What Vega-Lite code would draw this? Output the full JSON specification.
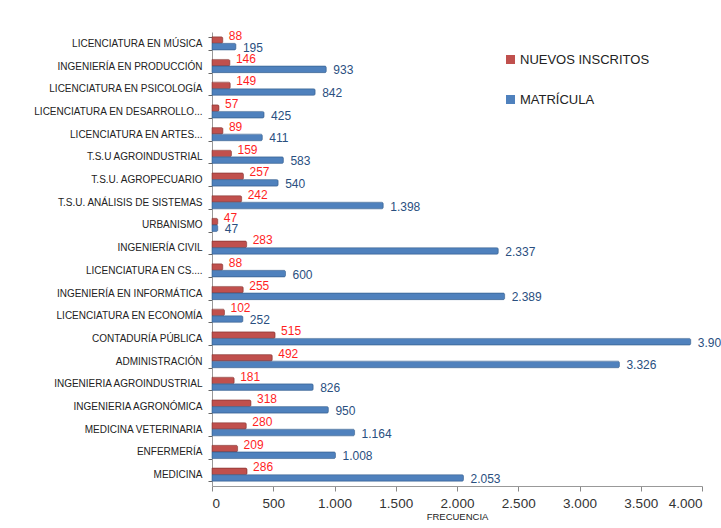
{
  "$schema": "https://vega.github.io/schema/vega-lite/v6.json",
  "autosize": {"type": "none"},
  "width": 490,
  "height": 454,
  "padding": {"left": 212, "top": 32, "right": 19, "bottom": 42},
  "background": "white",
  "config": {
    "locale": {"number": {"decimal": ",", "thousands": ".", "grouping": [3], "currency": ["", ""]}},
    "view": {"stroke": null},
    "font": "Liberation Sans"
  },
  "data": {"values": [
    {"carrera": "LICENCIATURA EN MÚSICA", "serie": "NUEVOS INSCRITOS", "valor": 88},
    {"carrera": "LICENCIATURA EN MÚSICA", "serie": "MATRÍCULA", "valor": 195},
    {"carrera": "INGENIERÍA EN PRODUCCIÓN", "serie": "NUEVOS INSCRITOS", "valor": 146},
    {"carrera": "INGENIERÍA EN PRODUCCIÓN", "serie": "MATRÍCULA", "valor": 933},
    {"carrera": "LICENCIATURA EN PSICOLOGÍA", "serie": "NUEVOS INSCRITOS", "valor": 149},
    {"carrera": "LICENCIATURA EN PSICOLOGÍA", "serie": "MATRÍCULA", "valor": 842},
    {"carrera": "LICENCIATURA EN DESARROLLO...", "serie": "NUEVOS INSCRITOS", "valor": 57},
    {"carrera": "LICENCIATURA EN DESARROLLO...", "serie": "MATRÍCULA", "valor": 425},
    {"carrera": "LICENCIATURA EN ARTES...", "serie": "NUEVOS INSCRITOS", "valor": 89},
    {"carrera": "LICENCIATURA EN ARTES...", "serie": "MATRÍCULA", "valor": 411},
    {"carrera": "T.S.U AGROINDUSTRIAL", "serie": "NUEVOS INSCRITOS", "valor": 159},
    {"carrera": "T.S.U AGROINDUSTRIAL", "serie": "MATRÍCULA", "valor": 583},
    {"carrera": "T.S.U. AGROPECUARIO", "serie": "NUEVOS INSCRITOS", "valor": 257},
    {"carrera": "T.S.U. AGROPECUARIO", "serie": "MATRÍCULA", "valor": 540},
    {"carrera": "T.S.U. ANÁLISIS DE SISTEMAS", "serie": "NUEVOS INSCRITOS", "valor": 242},
    {"carrera": "T.S.U. ANÁLISIS DE SISTEMAS", "serie": "MATRÍCULA", "valor": 1398},
    {"carrera": "URBANISMO", "serie": "NUEVOS INSCRITOS", "valor": 47},
    {"carrera": "URBANISMO", "serie": "MATRÍCULA", "valor": 47},
    {"carrera": "INGENIERÍA CIVIL", "serie": "NUEVOS INSCRITOS", "valor": 283},
    {"carrera": "INGENIERÍA CIVIL", "serie": "MATRÍCULA", "valor": 2337},
    {"carrera": "LICENCIATURA EN CS....", "serie": "NUEVOS INSCRITOS", "valor": 88},
    {"carrera": "LICENCIATURA EN CS....", "serie": "MATRÍCULA", "valor": 600},
    {"carrera": "INGENIERÍA EN INFORMÁTICA", "serie": "NUEVOS INSCRITOS", "valor": 255},
    {"carrera": "INGENIERÍA EN INFORMÁTICA", "serie": "MATRÍCULA", "valor": 2389},
    {"carrera": "LICENCIATURA EN ECONOMÍA", "serie": "NUEVOS INSCRITOS", "valor": 102},
    {"carrera": "LICENCIATURA EN ECONOMÍA", "serie": "MATRÍCULA", "valor": 252},
    {"carrera": "CONTADURÍA PÚBLICA", "serie": "NUEVOS INSCRITOS", "valor": 515},
    {"carrera": "CONTADURÍA PÚBLICA", "serie": "MATRÍCULA", "valor": 3908},
    {"carrera": "ADMINISTRACIÓN", "serie": "NUEVOS INSCRITOS", "valor": 492},
    {"carrera": "ADMINISTRACIÓN", "serie": "MATRÍCULA", "valor": 3326},
    {"carrera": "INGENIERIA AGROINDUSTRIAL", "serie": "NUEVOS INSCRITOS", "valor": 181},
    {"carrera": "INGENIERIA AGROINDUSTRIAL", "serie": "MATRÍCULA", "valor": 826},
    {"carrera": "INGENIERIA AGRONÓMICA", "serie": "NUEVOS INSCRITOS", "valor": 318},
    {"carrera": "INGENIERIA AGRONÓMICA", "serie": "MATRÍCULA", "valor": 950},
    {"carrera": "MEDICINA VETERINARIA", "serie": "NUEVOS INSCRITOS", "valor": 280},
    {"carrera": "MEDICINA VETERINARIA", "serie": "MATRÍCULA", "valor": 1164},
    {"carrera": "ENFERMERÍA", "serie": "NUEVOS INSCRITOS", "valor": 209},
    {"carrera": "ENFERMERÍA", "serie": "MATRÍCULA", "valor": 1008},
    {"carrera": "MEDICINA", "serie": "NUEVOS INSCRITOS", "valor": 286},
    {"carrera": "MEDICINA", "serie": "MATRÍCULA", "valor": 2053}
  ]},
  "encoding": {
    "y": {
      "field": "carrera", "type": "nominal", "sort": null,
      "scale": {"paddingInner": 0.42, "paddingOuter": 0.21},
      "axis": {
        "title": null, "tickBand": "extent", "domainColor": "#999999", "tickColor": "#666666",
        "tickSize": 4, "labelPadding": 6, "labelFont": "Liberation Sans",
        "labelFontSize": 10, "labelColor": "#222222", "labelLimit": 200
      }
    },
    "x": {
      "field": "valor", "type": "quantitative",
      "scale": {"domain": [0, 4000], "nice": false},
      "axis": {
        "values": [0, 500, 1000, 1500, 2000, 2500, 3000, 3500, 4000], "format": ",d",
        "title": "FRECUENCIA", "titleFont": "Liberation Sans", "titleFontSize": 9.5,
        "titleFontWeight": "normal", "titleColor": "#222222", "titlePadding": 2,
        "grid": false, "domainColor": "#999999", "tickColor": "#888888", "tickSize": 5,
        "labelFontSize": 13.5, "labelColor": "#333333", "labelPadding": 5
      }
    },
    "yOffset": {
      "field": "serie", "type": "nominal",
      "scale": {"domain": ["NUEVOS INSCRITOS", "MATRÍCULA"], "paddingInner": 0, "paddingOuter": 0}
    }
  },
  "layer": [
    {
      "mark": {"type": "bar", "strokeWidth": 0.6, "cornerRadiusEnd": 1.5},
      "encoding": {
        "color": {
          "field": "serie", "type": "nominal",
          "scale": {"domain": ["NUEVOS INSCRITOS", "MATRÍCULA"], "range": ["#C0504D", "#4F81BD"]},
          "legend": {
            "title": null, "orient": "none", "legendX": 292, "legendY": 21,
            "symbolType": "square", "symbolSize": 81, "symbolStrokeWidth": 0,
            "labelFont": "Liberation Sans", "labelFontSize": 13, "labelColor": "#222222",
            "rowPadding": 26, "labelOffset": 3
          }
        },
        "stroke": {
          "field": "serie", "type": "nominal",
          "scale": {"domain": ["NUEVOS INSCRITOS", "MATRÍCULA"], "range": ["#8E3A38", "#3A6595"]},
          "legend": null
        }
      }
    },
    {
      "transform": [{"filter": "datum.serie === 'NUEVOS INSCRITOS'"}],
      "mark": {"type": "text", "align": "left", "dx": 6, "dy": -4, "fontSize": 12, "color": "#FF1F1F"},
      "encoding": {"text": {"field": "valor", "type": "quantitative", "format": ",d"}}
    },
    {
      "transform": [{"filter": "datum.serie === 'MATRÍCULA'"}],
      "mark": {"type": "text", "align": "left", "dx": 7, "dy": 1, "fontSize": 12, "color": "#2A4F7F"},
      "encoding": {"text": {"field": "valor", "type": "quantitative", "format": ",d"}}
    }
  ]
}
